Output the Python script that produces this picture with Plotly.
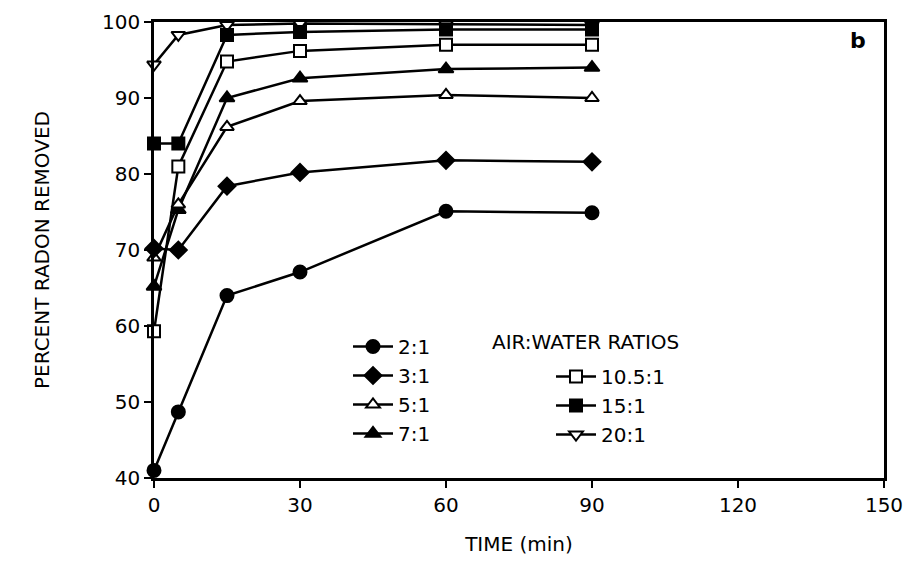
import plotly.graph_objects as go

# ---- data ----
times = [0, 5, 15, 30, 60, 90]
ratio_labels = ["2:1", "3:1", "5:1", "7:1", "10.5:1", "15:1", "20:1"]
r2 = [41.0, 48.7, 64.0, 67.1, 75.1, 74.9]
r3 = [70.2, 70.0, 78.4, 80.2, 81.8, 81.6]
r5 = [69.0, 76.0, 86.2, 89.6, 90.4, 90.0]
r7 = [65.2, 75.3, 90.0, 92.6, 93.8, 94.0]
r10 = [59.3, 81.0, 94.8, 96.2, 97.0, 97.0]
r15 = [84.0, 84.0, 98.3, 98.7, 99.0, 99.0]
r20 = [94.4, 98.3, 99.6, 99.8, 99.7, 99.6]
x_ticks = [0, 30, 60, 90, 120, 150]
y_ticks = [40, 50, 60, 70, 80, 90, 100]

FONT = "DejaVu Sans"

W, H = 908, 565
L, T, R, B = 154, 22, 24, 87
PW, PH = W - L - R, H - T - B


def px(xp):
    return (xp - L) / PW


def py(yp):
    return 1 - (yp - T) / PH


series = [
    (ratio_labels[0], r2, "circle", "black", 13, "legend"),
    (ratio_labels[1], r3, "diamond", "black", 13, "legend"),
    (ratio_labels[2], r5, "triangle-up", "white", 12, "legend"),
    (ratio_labels[3], r7, "triangle-up", "black", 13, "legend"),
    (ratio_labels[4], r10, "square", "white", 12, "legend2"),
    (ratio_labels[5], r15, "square", "black", 12, "legend2"),
    (ratio_labels[6], r20, "triangle-down", "white", 12, "legend2"),
]

fig = go.Figure()
for name, vals, sym, fill, size, leg in series[::-1]:
    fig.add_trace(go.Scatter(
        x=times, y=vals, name=name, mode="lines+markers",
        line=dict(color="black", width=2.5),
        marker=dict(symbol=sym, color=fill, size=size,
                    line=dict(color="black", width=2)),
        cliponaxis=False, legend=leg,
    ))

fig.update_layout(
    width=W, height=H,
    margin=dict(l=L, r=R, t=T, b=B, autoexpand=False),
    paper_bgcolor="white", plot_bgcolor="white",
    font=dict(family=FONT, size=20, color="black"),
    showlegend=True,
    legend=dict(x=px(348), y=py(327), xanchor="left", yanchor="top",
                traceorder="reversed", font=dict(size=20), bgcolor="rgba(0,0,0,0)",
                itemwidth=40, tracegroupgap=0),
    legend2=dict(x=px(551), y=py(357), xanchor="left", yanchor="top",
                 traceorder="reversed", font=dict(size=20), bgcolor="rgba(0,0,0,0)",
                 itemwidth=40, tracegroupgap=0),
    annotations=[
        dict(text="AIR:WATER RATIOS", x=px(490), y=py(342), xref="paper", yref="paper",
             xanchor="left", yanchor="middle", showarrow=False, font=dict(size=20)),
        dict(text="<b>b</b>", x=px(858), y=py(40), xref="paper", yref="paper",
             xanchor="center", yanchor="middle", showarrow=False, font=dict(size=22)),
    ],
)

axis_common = dict(showgrid=False, zeroline=False, showline=True, linecolor="black",
                   linewidth=2.5, tickwidth=2, tickcolor="black", ticklen=7,
                   automargin=False)

fig.update_layout(
    xaxis=dict(range=[0, 150], tickvals=x_ticks, mirror=True, ticks="outside",
               tickfont=dict(size=20),
               title=dict(text="TIME (min)", font=dict(size=20), standoff=22),
               **axis_common),
    yaxis=dict(range=[40, 100], tickvals=y_ticks, mirror=True, ticks="outside",
               tickfont=dict(size=20),
               title=dict(text="PERCENT RADON REMOVED", font=dict(size=20), standoff=48),
               **axis_common),
    # overlay axes giving the inward half of the crossing tick marks
    xaxis2=dict(range=[0, 150], tickvals=x_ticks, overlaying="x", side="bottom",
                ticks="inside", showticklabels=False, **axis_common),
    yaxis2=dict(range=[40, 100], tickvals=y_ticks, overlaying="y", side="left",
                ticks="inside", showticklabels=False, **axis_common),
)

fig.write_html(
    "out.html",
    config={"displayModeBar": False},
    post_script="document.body.style.margin='0px';document.body.style.overflow='hidden';",
)
